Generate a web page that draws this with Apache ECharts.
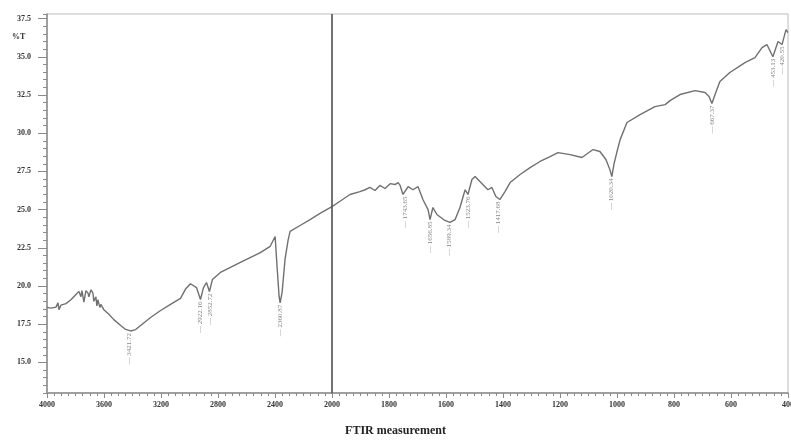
<!DOCTYPE html>
<html>
<head>
<meta charset="utf-8">
<script src="https://cdn.jsdelivr.net/npm/echarts@6/dist/echarts.min.js"></script>
<style>
  html, body { margin: 0; padding: 0; background: #fff; }
  #chart { width: 791px; height: 440px; }
</style>
</head>
<body>
<div id="chart"></div>
<script>
// 4000-2000 cm-1 part (compressed scale)
const leftWn = [4000, 3972, 3937, 3923, 3916, 3902, 3867, 3832, 3797, 3776, 3762, 3755, 3741, 3727, 3713, 3706,
  3692, 3678, 3671, 3657, 3650, 3643, 3629, 3622, 3601, 3587, 3566, 3531, 3483, 3448, 3413, 3378, 3343, 3273,
  3203, 3133, 3063, 3028, 2993, 2951, 2923, 2902, 2881, 2860, 2839, 2783, 2643, 2503, 2434, 2399, 2385, 2371,
  2364, 2350, 2329, 2308, 2294, 2224, 2154, 2084, 2000]
const leftT = [18.6, 18.55, 18.62, 18.9, 18.45, 18.75, 18.85, 19.1, 19.45, 19.65, 19.3, 19.7, 18.95, 19.7, 19.55, 19.3,
  19.75, 19.55, 19.0, 19.3, 18.7, 19.1, 18.6, 18.8, 18.45, 18.5, 18.15, 17.8, 17.42, 17.16, 17.06, 17.15, 17.42, 17.94,
  18.4, 18.8, 19.19, 19.8, 20.15, 19.9, 19.12, 19.9, 20.23, 19.64, 20.43, 20.89, 21.54, 22.19, 22.6, 23.24, 21.2, 19.3,
  18.9, 19.6, 21.8, 23.0, 23.57, 23.96, 24.35, 24.75, 25.2]

// 2000-400 cm-1 part (expanded scale)
const rightWn = [2000, 1972, 1937, 1902, 1884, 1867, 1849, 1832, 1814, 1796, 1779, 1768, 1761, 1751, 1740, 1733,
  1716, 1698, 1681, 1663, 1656, 1646, 1632, 1604, 1586, 1568, 1551, 1533, 1523, 1509, 1498, 1481, 1453, 1439,
  1425, 1411, 1393, 1375, 1340, 1305, 1270, 1235, 1207, 1165, 1123, 1084, 1060, 1039, 1025, 1018, 1011, 1000,
  989, 965, 919, 867, 831, 814, 779, 726, 691, 677, 667, 656, 639, 604, 551, 516, 491, 474, 453, 435, 421, 407, 400]
const rightT = [25.2, 25.55, 25.99, 26.18, 26.3, 26.45, 26.25, 26.58, 26.38, 26.7, 26.64, 26.77, 26.58, 25.99, 26.3, 26.5,
  26.3, 26.5, 25.66, 25.0, 24.35, 25.14, 24.68, 24.29, 24.16, 24.35, 25.14, 26.3, 25.99, 26.97, 27.16, 26.84, 26.3, 26.45,
  25.86, 25.66, 26.18, 26.77, 27.3, 27.75, 28.15, 28.47, 28.73, 28.6, 28.41, 28.93, 28.8, 28.28, 27.62, 27.16, 27.95, 28.8,
  29.58, 30.7, 31.22, 31.74, 31.87, 32.13, 32.53, 32.79, 32.66, 32.4, 31.94, 32.53, 33.38, 33.97, 34.62, 34.95, 35.6, 35.8,
  35.0, 36.0, 35.8, 36.78, 36.58]

// peak picks
const peakWn = [3421.72, 2922.16, 2852.72, 2360.87, 1743.65, 1656.85, 1589.34, 1523.76, 1417.68, 1020.34, 667.37, 453.13, 420.55]
const peakT = [17.06, 19.12, 19.64, 18.9, 25.99, 24.35, 24.16, 25.99, 25.66, 27.16, 31.94, 35.0, 35.8]

const yTicks = [15, 17.5, 20, 22.5, 25, 27.5, 30, 32.5, 35, 37.5]

const pair = (xs, ys) => xs.map((x, i) => [x, ys[i]])
const leftPeaks = pair(peakWn, peakT).filter((p) => p[0] >= 2000)
const rightPeaks = pair(peakWn, peakT).filter((p) => p[0] < 2000)

const fontFamily = '"Liberation Serif", "DejaVu Serif", serif'
const axisColor = '#8a8a8a'
const labelStyle = { color: '#333', fontFamily, fontWeight: 'bold', fontSize: 8 }

const peakLabel = {
  show: true,
  position: 'bottom',
  distance: 2,
  rotate: 90,
  align: 'right',
  verticalAlign: 'middle',
  formatter: (p) => '— ' + p.value[0].toFixed(2),
  color: '#666',
  fontSize: 7,
  fontFamily,
}

const xAxisBase = {
  type: 'value',
  inverse: true,
  axisLine: { lineStyle: { color: axisColor, width: 1.5 } },
  axisTick: { length: 5, lineStyle: { color: axisColor } },
  minorTick: { show: true, splitNumber: 8, length: 3, lineStyle: { color: axisColor } },
  splitLine: { show: false },
  axisLabel: { ...labelStyle, margin: 8, formatter: (v) => String(v) },
}

const chartDom = document.getElementById('chart')
const myChart = echarts.init(chartDom)

const option = {
  animation: false,
  backgroundColor: '#fff',
  grid: [
    { left: 47, right: 459, top: 14, bottom: 47, outerBoundsMode: 'none', show: true, borderColor: '#bbb', borderWidth: 1 },
    { left: 332, right: 3, top: 14, bottom: 47, outerBoundsMode: 'none', show: true, borderColor: '#bbb', borderWidth: 1 },
  ],
  xAxis: [
    { ...xAxisBase, gridIndex: 0, min: 2000, max: 4000, interval: 400, axisLabel: { ...xAxisBase.axisLabel, showMinLabel: false } },
    { ...xAxisBase, gridIndex: 1, min: 400, max: 2000, interval: 200 },
  ],
  yAxis: [
    {
      type: 'value',
      gridIndex: 0,
      position: 'left',
      min: 13,
      max: 37.8,
      interval: 0.5,
      axisLine: { show: true, lineStyle: { color: axisColor, width: 1.5 } },
      axisTick: { length: 4, lineStyle: { color: axisColor } },
      splitLine: { show: false },
      axisLabel: { ...labelStyle, margin: 16, customValues: yTicks, formatter: (v) => v.toFixed(1) },
    },
    {
      type: 'value',
      gridIndex: 0,
      position: 'left',
      min: 13,
      max: 37.8,
      axisLine: { show: false },
      axisTick: { show: true, length: 9, customValues: yTicks, lineStyle: { color: axisColor } },
      axisLabel: { show: false },
      splitLine: { show: false },
    },
    {
      type: 'value',
      gridIndex: 1,
      min: 13,
      max: 37.8,
      show: false,
      splitLine: { show: false },
    },
  ],
  series: [
    {
      type: 'line',
      xAxisIndex: 0,
      yAxisIndex: 0,
      data: pair(leftWn, leftT),
      symbol: 'none',
      lineStyle: { color: '#707070', width: 1.4 },
    },
    {
      type: 'line',
      xAxisIndex: 1,
      yAxisIndex: 2,
      data: pair(rightWn, rightT),
      symbol: 'none',
      lineStyle: { color: '#707070', width: 1.4 },
      markLine: {
        silent: true,
        symbol: 'none',
        label: { show: false },
        lineStyle: { color: '#555', width: 1.5, type: 'solid' },
        data: [{ xAxis: 2000 }],
      },
    },
    {
      type: 'scatter',
      xAxisIndex: 0,
      yAxisIndex: 0,
      data: leftPeaks,
      symbolSize: 0,
      label: peakLabel,
    },
    {
      type: 'scatter',
      xAxisIndex: 1,
      yAxisIndex: 2,
      data: rightPeaks,
      symbolSize: 0,
      label: peakLabel,
    },
  ],
  graphic: [
    { type: 'text', left: 12, top: 33, style: { text: '%T', fill: '#333', font: 'bold 8px ' + fontFamily } },
    { type: 'text', left: 'center', top: 425, style: { text: 'FTIR measurement', fill: '#222', font: 'bold 12px ' + fontFamily } },
  ],
}

option && myChart.setOption(option)
</script>
</body>
</html>
